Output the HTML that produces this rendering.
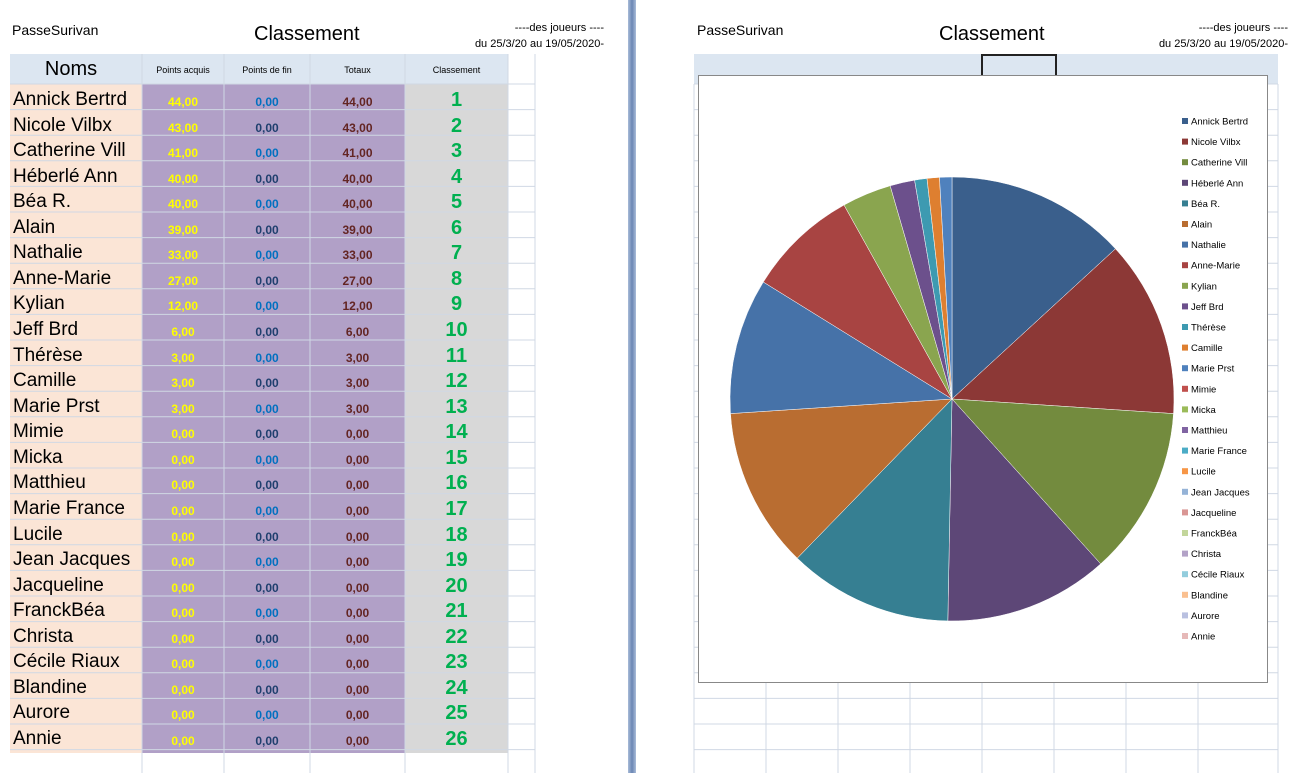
<!DOCTYPE html>
<html><head><meta charset="utf-8"><style>
body{margin:0;width:1293px;height:773px;background:#fff;position:relative;overflow:hidden;font-family:"Liberation Sans",sans-serif}
.a{position:absolute}
.t{white-space:nowrap}
</style></head><body>
<div class="a t" style="left:12px;top:22px;font-size:14px">PasseSurivan</div>
<div class="a t" style="left:254px;top:23px;font-size:20px">Classement</div>
<div class="a t" style="left:462px;top:20px;font-size:11px;text-align:right;width:142px;line-height:16px">----des joueurs ----<br>du 25/3/20 au 19/05/2020-</div>
<div class="a" style="left:628px;top:0;width:8px;height:773px;background:linear-gradient(90deg,#a9bcd8,#6a86b4,#a9bcd8)"></div>
<div id="tbl"></div>
<div class="a t" style="left:697px;top:22px;font-size:14px">PasseSurivan</div>
<div class="a t" style="left:939px;top:23px;font-size:20px">Classement</div>
<div class="a t" style="left:1146px;top:20px;font-size:11px;text-align:right;width:142px;line-height:16px">----des joueurs ----<br>du 25/3/20 au 19/05/2020-</div>
<div class="a" style="left:694px;top:54px;width:584px;height:30px;background:#dce6f1"></div>
<div class="a" style="left:981px;top:54px;width:72px;height:22px;border:2px solid #222;border-bottom:none"></div>
<svg id="grid2" class="a" style="left:0;top:0" width="1293" height="773"></svg>
<div class="a" style="left:698px;top:75px;width:568px;height:606px;background:#fff;border:1px solid #888"></div>
<svg id="pie" class="a" style="left:0;top:0" width="1293" height="773"></svg>
<script>
const names=["Annick Bertrd","Nicole Vilbx","Catherine Vill","Héberlé Ann","Béa R.","Alain","Nathalie","Anne-Marie","Kylian","Jeff Brd","Thérèse","Camille","Marie Prst","Mimie","Micka","Matthieu","Marie France","Lucile","Jean Jacques","Jacqueline","FranckBéa","Christa","Cécile Riaux","Blandine","Aurore","Annie"];
const acquired=[44,43,41,40,40,39,33,27,12,6,3,3,3,0,0,0,0,0,0,0,0,0,0,0,0,0];
const finPoints=[0,0,0,0,0,0,0,0,0,0,0,0,0,0,0,0,0,0,0,0,0,0,0,0,0,0];
const totals=[44,43,41,40,40,39,33,27,12,6,3,3,3,0,0,0,0,0,0,0,0,0,0,0,0,0];
const colors=["#3a5f8c","#8c3836","#738b3e","#5d4777","#367f92","#b96d31","#4672a8","#a84442","#8aa54f","#6c508c","#3d9ab1","#de7f30","#4f81bd","#c0504d","#9bbb59","#8064a2","#4bacc6","#f79646","#95b3d7","#d99694","#c3d69b","#b3a2c7","#93cddd","#fac090","#b9c0e0","#e6b9b8"];
const NS="http://www.w3.org/2000/svg";
const fmt=v=>v.toFixed(2).replace('.',',');
// table
const tbl=document.getElementById('tbl');
function box(l,t,w,h,bg,name){const d=document.createElement('div');d.className='a';d.style.cssText=`left:${l}px;top:${t}px;width:${w}px;height:${h}px;background:${bg}`;


tbl.appendChild(d);return d;}
const g2=document.getElementById('grid2');
function line(svg,x1,y1,x2,y2,c){const l=document.createElementNS(NS,'line');l.setAttribute('x1',x1);l.setAttribute('y1',y1);l.setAttribute('x2',x2);l.setAttribute('y2',y2);l.setAttribute('stroke',c);


svg.appendChild(l);}
// grid lines
for(let y=84;y<773;y+=25.6){line(g2,10,y,535,y,"#d0d8e4");line(g2,694,y,1278,y,"#d0d8e4");}
[142,224,310,405,508,535].forEach(x=>line(g2,x,54,x,773,"#d0d8e4"));
[694,766,838,910,982,1054,1126,1198,1278].forEach(x=>line(g2,x,84,x,773,"#d0d8e4"));
box(10,54,498,30,"#dce6f1","table-header");
box(10,84,132,669,"#fbe5d6","names-column");
box(142,84,263,669,"#b1a0c7","points-columns");
box(405,84,103,669,"#d8d8d8","rank-column");
function txt(l,t,w,s,c,str,name,extra){const d=document.createElement('div');d.className='a t';d.style.cssText=`left:${l}px;top:${t}px;width:${w}px;font-size:${s}px;color:${c};text-align:center;${extra||''}`;d.textContent=str;


tbl.appendChild(d);}
txt(10,58,122,20,"#000","Noms","header-noms");
txt(142,65,82,9,"#000","Points acquis","header-points-acquis");
txt(224,65,86,9,"#000","Points de fin","header-points-fin");
txt(310,65,95,9,"#000","Totaux","header-totaux");
txt(405,65,103,9,"#000","Classement","header-classement");
names.forEach((n,i)=>{const cy=101+i*25.56;
txt(13,cy-12,130,19,"#000",n,"player-name","text-align:left");
txt(142,cy-6,82,12,"#ffff00",fmt(acquired[i]),"points-acquis-value","font-weight:bold");
txt(224,cy-6,86,12,i%2?"#1f3f6e":"#0070c0",fmt(finPoints[i]),"points-fin-value","font-weight:bold");
txt(310,cy-6,95,12,"#632523",fmt(totals[i]),"total-value","font-weight:bold");
txt(405,cy-12,103,20,"#00b050",String(i+1),"rank-value","font-weight:bold");});
// pie
const pie=document.getElementById('pie');
const cx=952,cy=399,r=222;const sum=totals.reduce((a,b)=>a+b,0);let a0=-Math.PI/2;
totals.forEach((v,i)=>{if(v<=0)return;const a1=a0+v/sum*2*Math.PI;
const p=document.createElementNS(NS,'path');const large=(a1-a0)>Math.PI?1:0;
p.setAttribute('d',`M${cx},${cy}L${cx+r*Math.cos(a0)},${cy+r*Math.sin(a0)}A${r},${r} 0 ${large} 1 ${cx+r*Math.cos(a1)},${cy+r*Math.sin(a1)}Z`);
p.setAttribute('fill',colors[i]);p.setAttribute('stroke','#fff');p.setAttribute('stroke-width','0.5');


pie.appendChild(p);a0=a1;});
names.forEach((n,i)=>{const y=121+i*20.6;
const rc=document.createElementNS(NS,'rect');rc.setAttribute('x',1182);rc.setAttribute('y',y-3);rc.setAttribute('width',6);rc.setAttribute('height',6);rc.setAttribute('fill',colors[i]);


pie.appendChild(rc);
const t=document.createElementNS(NS,'text');t.setAttribute('x',1191);t.setAttribute('y',y+3.5);t.setAttribute('font-size','9.5');t.setAttribute('font-family','Liberation Sans, sans-serif');t.textContent=n;


pie.appendChild(t);});
</script>
</body></html>
